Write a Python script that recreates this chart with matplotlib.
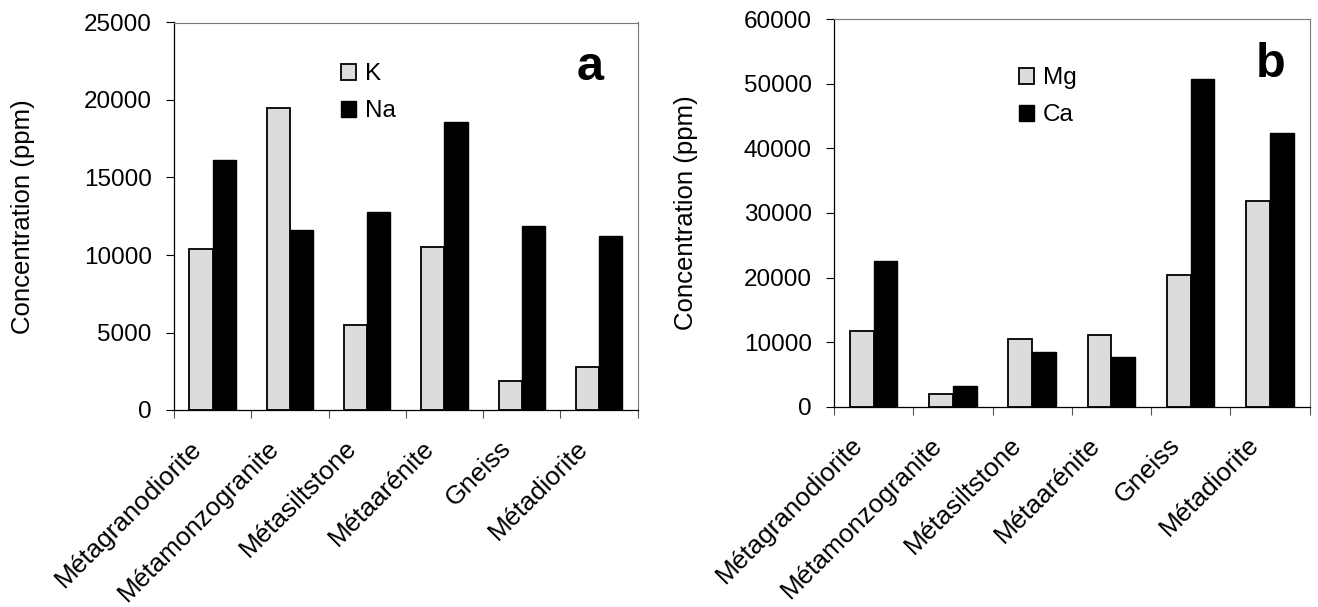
import numpy as np
import matplotlib
matplotlib.use("Agg")
import matplotlib.pyplot as plt
import matplotlib.transforms as mtransforms

plt.rcParams['font.family'] = ['Liberation Sans', 'DejaVu Sans']

categories = ["Métagranodiorite", "Métamonzogranite", "Métasiltstone",
              "Métaarénite", "Gneiss", "Métadiorite"]
K = [10400, 19500, 5500, 10500, 1900, 2800]
Na = [16100, 11600, 12800, 18600, 11900, 11200]
Mg = [11800, 1900, 10500, 11100, 20400, 31900]
Ca = [22600, 3200, 8400, 7700, 50800, 42400]

LIGHT = '#dcdcdc'
FS_TICK = 17.5
FS_CAT = 18.8
FS_YLAB = 18.5
FS_LEG = 17.5

fig = plt.figure(figsize=(13.18, 6.07), dpi=100)
axa = fig.add_axes([174/1318, 1-410/607, 463.7/1318, 387.5/607])
axb = fig.add_axes([834/1318, 1-406.7/607, 475.5/1318, 387.4/607])


def panel(ax, s1, s2, n1, n2, ymax, ystep, letter, leg_xy, letter_xy, ylab_x):
    x = np.arange(len(categories)) + 0.5
    w = 0.3
    ax.bar(x - w/2, s1, width=w, color=LIGHT, edgecolor='black', linewidth=1.3, label=n1, zorder=2)
    ax.bar(x + w/2, s2, width=w, color='black', edgecolor='black', linewidth=1.0, label=n2, zorder=2)
    ax.set_xlim(0, len(categories))
    ax.set_ylim(0, ymax)
    ax.set_yticks(np.arange(0, ymax + 1, ystep))
    ax.set_yticklabels([str(v) for v in np.arange(0, ymax + 1, ystep)])
    ax.set_xticks(np.arange(len(categories) + 1))
    ax.set_xticklabels([])
    ax.tick_params(axis='y', direction='out', length=6, width=0.8, pad=10, labelsize=FS_TICK)
    ax.tick_params(axis='x', direction='out', length=6, width=0.8, color='#555555')
    for sp in ['left', 'bottom']:
        ax.spines[sp].set_color('black')
        ax.spines[sp].set_linewidth(0.9)
    for sp in ['top', 'right']:
        ax.spines[sp].set_color('#777777')
        ax.spines[sp].set_linewidth(0.8)
    # category labels
    off = mtransforms.ScaledTranslation(-23/100, -26/100, fig.dpi_scale_trans)
    trans = mtransforms.blended_transform_factory(ax.transData, ax.transAxes) + off
    for xi, c in zip(x, categories):
        ax.text(xi, 0, c, transform=trans, rotation=45, ha='right', va='top',
                rotation_mode='anchor', fontsize=FS_CAT)
    ax.set_ylabel('Concentration (ppm)', fontsize=FS_YLAB)
    ax.yaxis.set_label_coords(ylab_x, 0.5)
    ax.legend(loc='upper left', bbox_to_anchor=leg_xy, frameon=False,
              fontsize=FS_LEG, borderpad=0, borderaxespad=0,
              handlelength=0.62, handleheight=0.62, handletextpad=0.35,
              labelspacing=0.62)
    ax.text(letter_xy[0], letter_xy[1], letter, transform=ax.transAxes,
            fontsize=35, fontweight='bold', ha='center', va='baseline')


panel(axa, K, Na, 'K', 'Na', 25000, 5000, 'a', (0.360, 0.895), (0.897, 0.852), -0.300)
panel(axb, Mg, Ca, 'Mg', 'Ca', 60000, 10000, 'b', (0.3897, 0.876), (0.919, 0.850), -0.285)

fig.savefig('out.png', dpi=100)
